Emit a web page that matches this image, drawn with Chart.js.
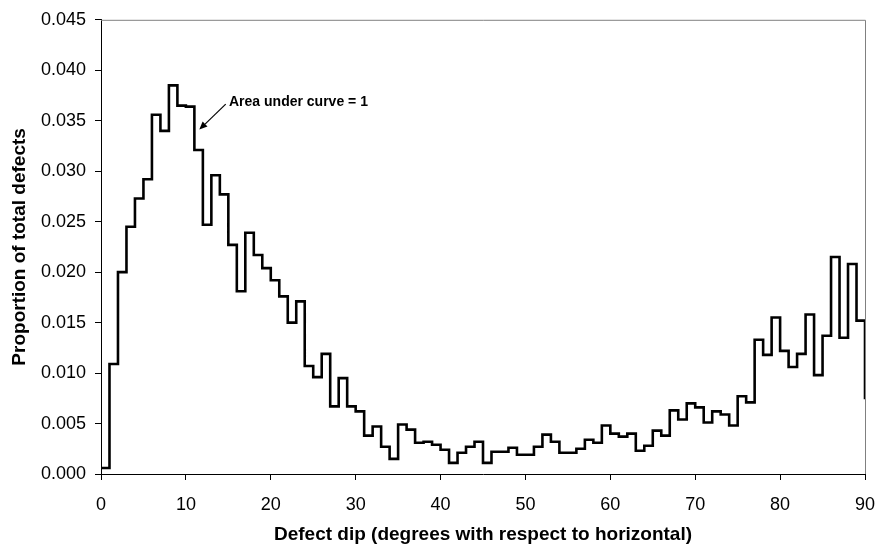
<!DOCTYPE html>
<html>
<head>
<meta charset="utf-8">
<script src="https://cdn.jsdelivr.net/npm/chart.js@4.4.1/dist/chart.umd.min.js"></script>
<style>
  html, body { margin: 0; padding: 0; background: #ffffff; }
  #wrap { width: 876px; height: 545px; }
</style>
</head>
<body>
<div id="wrap"><canvas id="dipChart" width="876" height="545"></canvas></div>
<script>
// Left edge of each 1-degree dip bin (the last entry closes the final bin)
const dipDegrees = [
  0, 1, 2, 3, 4, 5, 6, 7, 8, 9,
  10, 11, 12, 13, 14, 15, 16, 17, 18, 19,
  20, 21, 22, 23, 24, 25, 26, 27, 28, 29,
  30, 31, 32, 33, 34, 35, 36, 37, 38, 39,
  40, 41, 42, 43, 44, 45, 46, 47, 48, 49,
  50, 51, 52, 53, 54, 55, 56, 57, 58, 59,
  60, 61, 62, 63, 64, 65, 66, 67, 68, 69,
  70, 71, 72, 73, 74, 75, 76, 77, 78, 79,
  80, 81, 82, 83, 84, 85, 86, 87, 88, 89,
  90
];

// Proportion of total defects falling in each bin
const proportion = [
  0.0006, 0.0109, 0.0200, 0.0245, 0.0273, 0.0292, 0.0356, 0.0340, 0.0385, 0.0365,
  0.0364, 0.0321, 0.0247, 0.0296, 0.0277, 0.0227, 0.0181, 0.0239, 0.0217, 0.0204,
  0.0192, 0.0176, 0.0150, 0.0171, 0.0107, 0.0096, 0.0119, 0.0067, 0.0095, 0.0067,
  0.0062, 0.0038, 0.0047, 0.0027, 0.0015, 0.0049, 0.0044, 0.0031, 0.0032, 0.0029,
  0.0024, 0.0011, 0.0021, 0.0027, 0.0032, 0.0011, 0.0022, 0.0022, 0.0026, 0.0019,
  0.0019, 0.0027, 0.0039, 0.0032, 0.0021, 0.0021, 0.0025, 0.0034, 0.0031, 0.0048,
  0.0040, 0.0037, 0.0040, 0.0023, 0.0028, 0.0043, 0.0038, 0.0063, 0.0054, 0.0070,
  0.0066, 0.0051, 0.0062, 0.0059, 0.0048, 0.0077, 0.0071, 0.0133, 0.0118, 0.0155,
  0.0122, 0.0106, 0.0119, 0.0158, 0.0098, 0.0137, 0.0215, 0.0135, 0.0208, 0.0152,
  0.0074
];

const xAxisTitle = 'Defect dip (degrees with respect to horizontal)';
const yAxisTitle = 'Proportion of total defects';

// Callout text and its arrow, in data units
const noteText = 'Area under curve = 1';
const noteTextAt = { x: 15.08, y: 0.03683 };
const noteArrowFrom = { x: 14.69, y: 0.03664 };
const noteArrowTo = { x: 11.58, y: 0.03412 };

const FONT = '"Liberation Sans", Arial, Helvetica, sans-serif';
Chart.defaults.font.family = FONT;
Chart.defaults.color = '#000000';

const points = dipDegrees.map((d, i) => ({ x: d, y: proportion[i] }));

// Grey frame on the top and right of the plot area
const frame = {
  id: 'frame',
  beforeDatasetsDraw(chart) {
    const { ctx, chartArea: a } = chart;
    ctx.save();
    ctx.strokeStyle = '#808080';
    ctx.lineWidth = 1;
    ctx.beginPath();
    ctx.moveTo(a.left, a.top + 0.5);
    ctx.lineTo(a.right + 0.5, a.top + 0.5);
    ctx.lineTo(a.right + 0.5, a.bottom);
    ctx.stroke();
    ctx.restore();
  }
};

// Callout with arrow
const callout = {
  id: 'callout',
  afterDatasetsDraw(chart) {
    const { ctx, scales: { x, y } } = chart;
    const fx = x.getPixelForValue(noteArrowFrom.x), fy = y.getPixelForValue(noteArrowFrom.y);
    const tx = x.getPixelForValue(noteArrowTo.x), ty = y.getPixelForValue(noteArrowTo.y);
    ctx.save();
    ctx.strokeStyle = '#000000';
    ctx.fillStyle = '#000000';
    ctx.lineWidth = 1.2;
    const ang = Math.atan2(ty - fy, tx - fx);
    const headLen = 8, headHalf = 3.5;
    const bx = tx - headLen * Math.cos(ang), by = ty - headLen * Math.sin(ang);
    ctx.beginPath();
    ctx.moveTo(fx, fy);
    ctx.lineTo(bx, by);
    ctx.stroke();
    ctx.beginPath();
    ctx.moveTo(tx, ty);
    ctx.lineTo(bx + headHalf * Math.sin(ang), by - headHalf * Math.cos(ang));
    ctx.lineTo(bx - headHalf * Math.sin(ang), by + headHalf * Math.cos(ang));
    ctx.closePath();
    ctx.fill();
    ctx.font = 'bold 14px ' + FONT;
    ctx.textAlign = 'left';
    ctx.textBaseline = 'middle';
    ctx.fillText(noteText, x.getPixelForValue(noteTextAt.x), y.getPixelForValue(noteTextAt.y));
    ctx.restore();
  }
};

new Chart(document.getElementById('dipChart'), {
  type: 'line',
  data: {
    datasets: [{
      data: points,
      stepped: true,
      borderColor: '#000000',
      borderWidth: 2.6,
      borderJoinStyle: 'miter',
      borderCapStyle: 'butt',
      pointRadius: 0,
      fill: false,
      tension: 0
    }]
  },
  options: {
    responsive: false,
    devicePixelRatio: 1,
    animation: false,
    events: [],
    layout: { padding: { left: 0, top: 18, right: 11, bottom: 0 } },
    plugins: {
      legend: { display: false },
      tooltip: { enabled: false },
      title: { display: false }
    },
    scales: {
      x: {
        type: 'linear',
        min: 0,
        max: 90,
        afterFit(scale) {
          scale.height = 71;
          scale.paddingLeft = 0;
          scale.paddingRight = 0;
        },
        ticks: {
          stepSize: 10,
          font: { size: 18 },
          color: '#000000',
          padding: 14,
          maxRotation: 0
        },
        grid: { drawOnChartArea: false, drawTicks: true, tickLength: 6, color: '#000000', lineWidth: 1 },
        border: { display: true, color: '#000000', width: 1 },
        title: {
          display: true,
          text: xAxisTitle,
          font: { size: 19, weight: 'bold', lineHeight: 1 },
          color: '#000000',
          padding: { top: 0, bottom: 0.3 }
        }
      },
      y: {
        min: 0,
        max: 0.045,
        afterFit(scale) { scale.width = 101; },
        ticks: {
          stepSize: 0.005,
          font: { size: 18 },
          color: '#000000',
          padding: 9,
          callback: (v) => Number(v).toFixed(3)
        },
        grid: { drawOnChartArea: false, drawTicks: true, tickLength: 6, color: '#000000', lineWidth: 1 },
        border: { display: true, color: '#000000', width: 1 },
        title: {
          display: true,
          text: yAxisTitle,
          font: { size: 19, weight: 'bold' },
          color: '#000000',
          padding: { top: 8.6, bottom: 0 }
        }
      }
    }
  },
  plugins: [frame, callout]
});
</script>
</body>
</html>
